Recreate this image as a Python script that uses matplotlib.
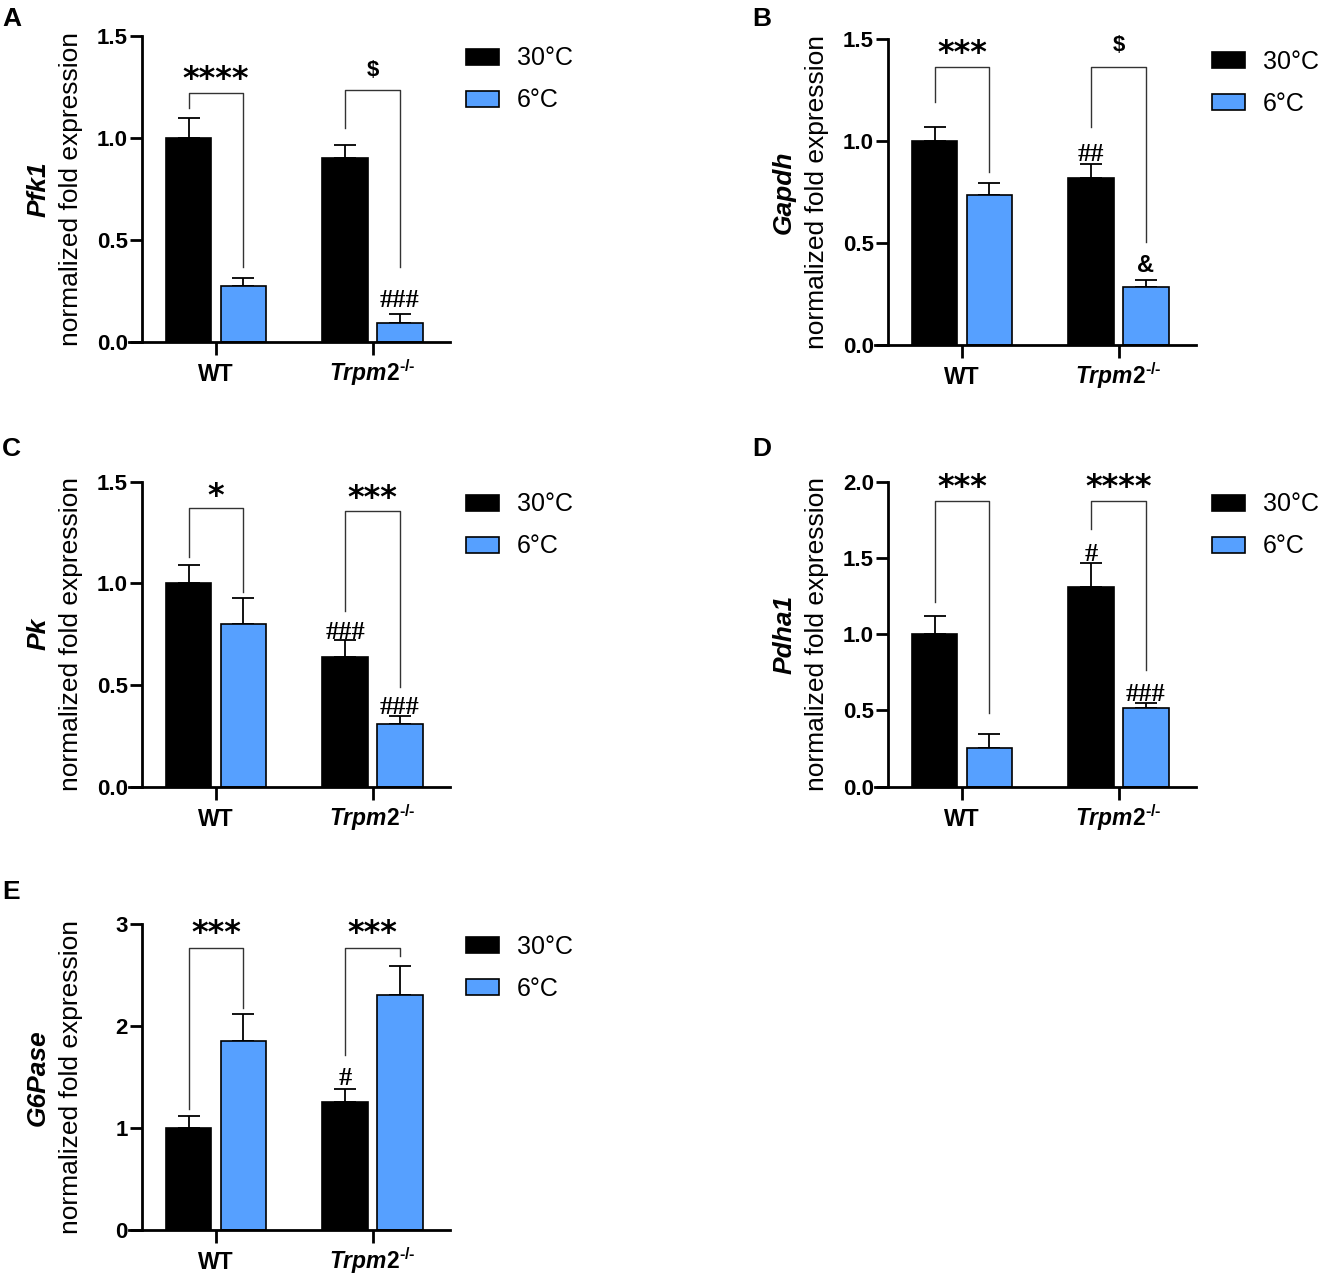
import matplotlib
matplotlib.use('Agg')
import matplotlib.pyplot as plt
import matplotlib.transforms as mtransforms
import numpy as np

plt.rcParams['font.family'] = ['Liberation Sans', 'DejaVu Sans']
plt.rcParams['mathtext.fontset'] = 'custom'
plt.rcParams['mathtext.rm'] = 'Liberation Sans:bold'
plt.rcParams['mathtext.it'] = 'Liberation Sans:bold:italic'
plt.rcParams['mathtext.bf'] = 'Liberation Sans:bold'

# data
groups = ['WT', '$\\mathit{Trpm2^{\u2010/\u2010}}$']
conditions = ['30°C', '6°C']
panels = ['A', 'B', 'C', 'D', 'E']
genes = ['Pfk1', 'Gapdh', 'Pk', 'Pdha1', 'G6Pase']

mean_30 = [[1.00, 0.90], [1.00, 0.818], [1.00, 0.638], [1.00, 1.311], [1.00, 1.261]]
sem_30 = [[0.095, 0.065], [0.068, 0.07], [0.09, 0.083], [0.12, 0.158], [0.117, 0.12]]
mean_6 = [[0.276, 0.093], [0.736, 0.286], [0.80, 0.307], [0.256, 0.514], [1.856, 2.304]]
sem_6 = [[0.04, 0.044], [0.06, 0.033], [0.13, 0.04], [0.09, 0.032], [0.268, 0.29]]

y_max = [1.5, 1.5, 1.5, 2.0, 3.0]
y_step = [0.5, 0.5, 0.5, 0.5, 1.0]
y_fmt = ['{:.1f}', '{:.1f}', '{:.1f}', '{:.1f}', '{:.0f}']

# brackets: (top, left leg end, right leg end, label, label y) for WT and Trpm2
brackets = [
    [(1.219, 1.146, 0.370, '****', 1.32), (1.235, 1.048, 0.370, '$', 1.34)],
    [(1.366, 1.194, 0.851, '***', 1.464), (1.366, 1.071, 0.507, '$', 1.48)],
    [(1.369, 1.128, 0.959, '*', 1.46), (1.357, 0.866, 0.492, '***', 1.45)],
    [(1.873, 1.213, 0.481, '***', 2.01), (1.873, 1.687, 0.765, '****', 2.01)],
    [(2.771, 1.186, 2.183, '***', 2.977), (2.771, 1.719, 2.69, '***', 2.977)],
]
# marks over single bars: (group index, condition index, text, y)
marks = [
    [(1, 1, '###', 0.215)],
    [(1, 0, '##', 0.949), (1, 1, '&', 0.40)],
    [(1, 0, '###', 0.77), (1, 1, '###', 0.40)],
    [(1, 0, '#', 1.54), (1, 1, '###', 0.623)],
    [(1, 0, '#', 1.513)],
]

# layout in pixels: left, top, bottom of each axes
W, H = 1324, 1276
boxes = [(129, 35.7, 342.3), (875, 39.3, 345), (129, 481.7, 786.7),
         (875, 481.7, 786.7), (129, 924.3, 1230.3)]
letter_pos = [(2, 7), (752, 7), (2, 437), (752, 437), (2, 880)]
ax_w = 321

blue = '#56A0FF'
off = 0.175
bw = 0.29

fig = plt.figure(figsize=(W / 100, H / 100), dpi=100)


def put(ax, x, y, s, fs, k, **kw):
    ax.annotate(s, xy=(x, y), xytext=(0, -k * fs), textcoords='offset points',
                ha='center', va='baseline', fontsize=fs, annotation_clip=False,
                **kw)


for i in range(5):
    L, T, B = boxes[i]
    ax = fig.add_axes([L / W, (H - B) / H, ax_w / W, (B - T) / H])
    ax.spines['left'].set_position(('data', -0.475))
    ax.spines['top'].set_visible(False)
    ax.spines['right'].set_visible(False)
    for s in ['left', 'bottom']:
        ax.spines[s].set_linewidth(2)

    x = np.arange(2)
    b30 = ax.bar(x - off, mean_30[i], bw, color='black', edgecolor='black',
                 linewidth=1.2, zorder=2, label=conditions[0])
    b6 = ax.bar(x + off, mean_6[i], bw, color=blue, edgecolor='black',
                linewidth=1.2, zorder=2, label=conditions[1])
    ax.errorbar(x - off, mean_30[i], yerr=[np.zeros(2), sem_30[i]], fmt='none',
                ecolor='black', elinewidth=1.3, capsize=8, capthick=1.3, zorder=1)
    ax.errorbar(x + off, mean_6[i], yerr=[np.zeros(2), sem_6[i]], fmt='none',
                ecolor='black', elinewidth=1.3, capsize=8, capthick=1.3, zorder=1)

    for g in range(2):
        top, l_end, r_end, lab, ly = brackets[i][g]
        xl, xr = g - off, g + off
        ax.plot([xl, xl, xr, xr], [l_end, top, top, r_end], color='#333333',
                lw=1.0, zorder=3)
        if '*' in lab:
            put(ax, g, ly, lab, 23, 0.48, fontweight='bold', family='DejaVu Sans')
        else:
            put(ax, g, ly, lab, 16, 0.36, fontweight='bold')

    for g, c, s, y in marks[i]:
        xm = g - off if c == 0 else g + off
        if '#' in s:
            put(ax, xm, y, s, 19, 0.34, family='Liberation Serif', fontweight='bold')
        else:
            put(ax, xm, y, s, 17, 0.36, fontweight='bold')

    ax.set_xlim(-0.556, 1.495)
    ax.set_ylim(0, y_max[i])
    ticks = np.arange(0, y_max[i] + 1e-9, y_step[i])
    ax.set_yticks(ticks)
    ax.set_yticklabels([y_fmt[i].format(t) for t in ticks])
    ax.set_xticks(x)
    ax.set_xticklabels([])
    ax.tick_params(axis='both', length=9, width=2, direction='out')
    ax.tick_params(axis='y', pad=1, labelsize=16)
    for t in ax.get_yticklabels():
        t.set_fontweight('bold')

    # group labels on a shared baseline under the axis
    base = mtransforms.offset_copy(ax.transData, fig=fig, x=0, y=-39, units='dots')
    for g in range(2):
        ax.text(g, 0, groups[g], transform=base, ha='center', va='baseline',
                fontsize=16.5, fontweight='bold', clip_on=False)

    ax.text(-0.283, 0.5, genes[i], transform=ax.transAxes, rotation=90,
            ha='center', va='center', fontsize=19, fontweight='bold',
            fontstyle='italic')
    ax.text(-0.181, 0.5, 'normalized fold expression', transform=ax.transAxes,
            rotation=90, ha='center', va='center', fontsize=19)

    ax.legend(handles=[b30, b6], loc='upper left', bbox_to_anchor=(1.05, 0.965),
              frameon=False, fontsize=18, handlelength=1.32, handleheight=0.6,
              handletextpad=0.7, labelspacing=0.72, borderpad=0, borderaxespad=0)

    lx, ly = letter_pos[i]
    fig.text(lx / W, 1 - ly / H, panels[i], ha='left', va='top', fontsize=19,
             fontweight='bold')

fig.savefig('out.png', dpi=100)
